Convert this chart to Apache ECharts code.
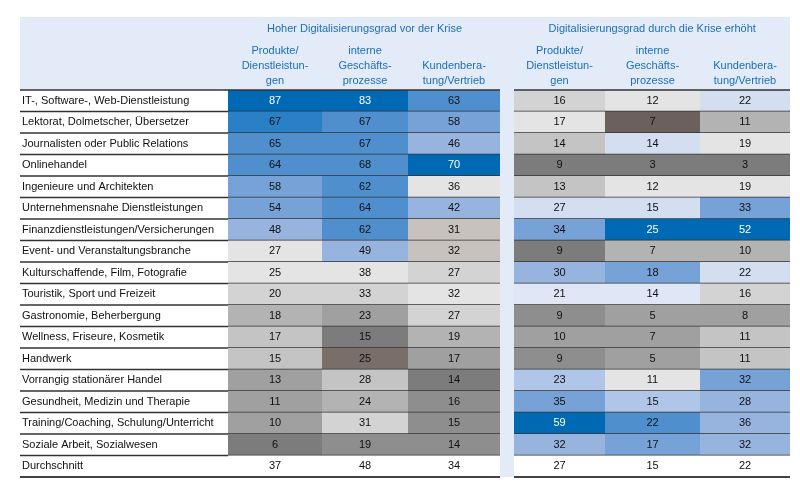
<!DOCTYPE html>
<html><head><meta charset="utf-8">
<script src="https://cdn.jsdelivr.net/npm/echarts@6/dist/echarts.min.js"></script>
<style>html,body{margin:0;background:#fff}#c{width:800px;height:490px}</style>
</head><body><div id="c"></div>
<script>
const rows = ["IT-, Software-, Web-Dienstleistung","Lektorat, Dolmetscher, Übersetzer","Journalisten oder Public Relations","Onlinehandel","Ingenieure und Architekten","Unternehmensnahe Dienstleistungen","Finanzdienstleistungen/Versicherungen","Event- und Veranstaltungsbranche","Kulturschaffende, Film, Fotografie","Touristik, Sport und Freizeit","Gastronomie, Beherbergung","Wellness, Friseure, Kosmetik","Handwerk","Vorrangig stationärer Handel","Gesundheit, Medizin und Therapie","Training/Coaching, Schulung/Unterricht","Soziale Arbeit, Sozialwesen","Durchschnitt"];
const groups = ["Hoher Digitalisierungsgrad vor der Krise","Digitalisierungsgrad durch die Krise erhöht"];
const columns = [["Produkte/","Dienstleistun-","gen"],["interne","Geschäfts-","prozesse"],["Kundenbera-","tung/Vertrieb"]];
const values = [
[87,83,63,16,12,22],[67,67,58,17,7,11],[65,67,46,14,14,19],[64,68,70,9,3,3],[58,62,36,13,12,19],
[54,64,42,27,15,33],[48,62,31,34,25,52],[27,49,32,9,7,10],[25,38,27,30,18,22],[20,33,32,21,14,16],
[18,23,27,9,5,8],[17,15,19,10,7,11],[15,25,17,9,5,11],[13,28,14,23,11,32],[11,24,16,35,15,28],
[10,31,15,59,22,36],[6,19,14,32,17,32],[37,48,34,27,15,22]];
const shades = [
["B4","B4","B2","G1","G0","BX"],["B3","B2","B1","G0","BR","G3"],["B2","B2","BL","G2","BX","G0"],
["B2","B2","B4","G6","G6","G6"],["B1","B2","G0","G2","G0","G0"],["B1","B2","BL","BX","BX","B1"],
["BL","B2","T","B1","B4","B4"],["G0","BL","T","G6","G3","G3"],["G0","G0","G1","BL","B1","BX"],
["G1","G1","G0","BY","BY","G1"],["G3","G4","G1","G5","G4","G4"],["G2","G6","G3","G4","G4","G2"],
["G2","BR2","G4","G5","G4","G2"],["G4","G2","G6","BV","G0","B1"],["G4","G3","G5","B1","BV","BL"],
["G4","G1","G5","B4","B2","BL"],["G6","G5","G5","BL","B1","BL"],["N","N","N","N","N","N"]];
const palette = {B4:"#0069b4",B3:"#2a80c6",B2:"#4f8fce",B1:"#76a2d8",BL:"#97b4df",BV:"#b0c6e8",BX:"#d3def1",BY:"#dfe6f5",
 G0:"#e4e4e4",G1:"#d3d3d3",G2:"#c4c4c4",G3:"#b3b3b3",G4:"#a0a0a0",G5:"#8e8e8e",G6:"#7c7c7c",BR:"#6b605b",BR2:"#7a6e68",T:"#c8c2bf",N:"#ffffff"};
const edges = [[0,94],[94,180],[180,272],[286,377],[377,472],[472,562]];
const data = [];
values.forEach((r,ri)=>r.forEach((v,ci)=>data.push([ci,ri,v,shades[ri][ci]])));
const chart = echarts.init(document.getElementById('c'));
const FONT = "Liberation Sans";
const headerG = [];
const hdrBlue = "#1a6fba";
const gx = 228;
function cx(c){return gx+(edges[c][0]+edges[c][1])/2;}
headerG.push({type:'rect',shape:{x:20,y:17,width:770,height:73},style:{fill:'#e3eaf8'},z:-1});
headerG.push({type:'rect',shape:{x:gx+272,y:90,width:14,height:387},style:{fill:'#e3eaf8'},z:-1});
headerG.push({type:'text',x:(cx(0)+cx(2))/2,y:29,style:{text:groups[0],fill:hdrBlue,font:'11px '+FONT,align:'center',verticalAlign:'middle'}});
headerG.push({type:'text',x:(cx(3)+cx(5))/2,y:29,style:{text:groups[1],fill:hdrBlue,font:'11px '+FONT,align:'center',verticalAlign:'middle'}});
for(let c=0;c<6;c++){
  const lines=columns[c%3];
  headerG.push({type:'text',x:cx(c),y:lines.length===3?43:58,style:{text:lines.join('\n'),fill:hdrBlue,font:'11px '+FONT,lineHeight:15,align:'center',verticalAlign:'top'}});
}
chart.setOption({
  animation:false,
  grid:{left:gx,right:10,top:90,bottom:13},
  xAxis:{type:'value',min:0,max:562,show:false},
  yAxis:{type:'category',data:rows,inverse:true,axisLine:{show:false},axisTick:{show:false},
    axisLabel:{align:'left',margin:gx-22,fontFamily:FONT,fontSize:11,color:'#111'}},
  graphic:headerG,
  series:[{type:'custom',data:data,renderItem:function(params,api){
    const c=api.value(0), r=api.value(1), v=api.value(2);
    const key=shades[r][c];
    const h=api.size([0,1])[1];
    const p0=api.coord([edges[c][0],r]), p1=api.coord([edges[c][1],r]);
    const y=p0[1]-h/2;
    const children=[];
    children.push({type:'rect',shape:{x:p0[0],y:y,width:p1[0]-p0[0],height:h},style:{fill:palette[key]}});
    children.push({type:'text',x:(p0[0]+p1[0])/2,y:p0[1],style:{text:String(v),fill:key==='B4'?'#fff':'#111',font:'11px '+FONT,align:'center',verticalAlign:'middle'}});
    const lw=(r===rows.length-1)?2:1.5;
    const lx0 = c===0?20:p0[0];
    children.push({type:'line',shape:{x1:lx0,y1:y+h,x2:p1[0],y2:y+h},style:{stroke:r===rows.length-1?'#444':'#333',lineWidth:lw}});
    if(r===0) children.push({type:'line',shape:{x1:lx0,y1:y,x2:p1[0],y2:y},style:{stroke:'#333',lineWidth:1.5}});
    return {type:'group',children:children};
  }}]
});
</script></body></html>
